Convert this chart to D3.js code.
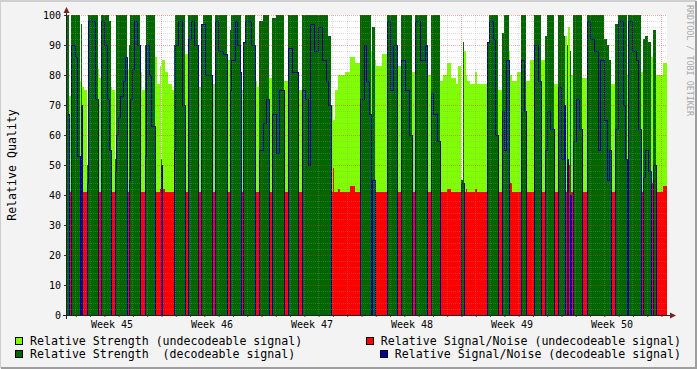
<!DOCTYPE html>
<html><head><meta charset="utf-8">
<script src="https://cdn.jsdelivr.net/npm/d3@7"></script>
<style>html,body{margin:0;padding:0;background:#f3f3f3;}svg{display:block;}</style>
</head><body><svg id="c" width="697" height="369"></svg>
<script>
// ---- data (RRD rows: 600 rows of 6048 s each) ----
const START = Date.UTC(2012, 10, 5, 9, 14, 24);
const STEP = 6048;          // seconds per row
const ROWS = 600;
// [first row, decodeable(1)/undecodeable(0), relative strength, relative signal/noise]
const periods = [
[0,1,100,67],[2,0,73,41],[4,1,100,90],[8,1,100,86],[10,1,100,53],
[13,0,78,41],[14,1,97,70],[15,0,76,41],[17,0,75,41],[20,1,50,44],
[21,1,100,98],[28,1,100,72],[31,0,82,44],[32,0,79,41],[34,1,100,98],
[37,1,100,90],[40,1,100,72],[42,1,98,55],[44,0,76,46],[45,0,75,41],
[48,1,52,48],[49,1,100,60],[51,1,100,66],[53,1,100,73],[56,1,100,78],
[58,1,100,86],[60,0,82,41],[62,1,90,45],[63,1,100,72],[65,1,100,82],
[67,1,100,98],[70,1,100,90],[73,0,81,41],[75,0,75,41],[78,1,90,53],
[79,1,100,90],[82,1,100,80],[84,1,100,63],[88,0,86,41],[90,0,77,41],
[93,0,83,42],[94,1,52,50],[95,0,85,42],[98,0,81,41],[101,0,77,41],
[105,0,75,41],[107,1,90,55],[108,1,100,90],[111,1,100,98],[115,1,100,70],
[118,0,87,41],[121,1,100,92],[124,1,100,98],[127,1,100,90],[131,0,76,41],
[134,1,97,97],[136,1,100,97],[138,1,100,80],[145,0,77,41],[148,1,100,98],
[151,1,100,88],[156,1,100,87],[160,0,85,50],[161,0,85,41],[163,1,95,75],
[164,1,100,85],[168,1,100,98],[170,1,100,90],[173,1,100,81],[174,0,75,50],
[175,0,75,41],[176,1,91,91],[178,1,100,98],[184,1,100,90],[188,0,78,41],
[190,0,76,41],[192,1,98,55],[196,1,100,64],[199,1,100,72],[202,0,79,51],
[203,0,79,41],[205,1,99,67],[209,1,100,54],[212,1,100,75],[217,0,78,46],
[218,0,78,41],[221,1,100,89],[225,1,100,81],[231,0,75,41],[235,1,100,75],
[238,1,100,72],[241,1,100,50],[243,1,100,97],[247,1,100,88],[251,1,100,96],
[255,1,100,85],[259,1,100,78],[261,1,93,70],[264,0,70,41],[266,0,65,49],
[267,0,65,41],[268,0,75,41],[271,0,80,42],[273,0,80,41],[278,0,81,41],
[283,0,86,43],[288,0,84,41],[293,1,100,72],[297,1,100,90],[299,1,100,78],
[302,1,100,67],[304,0,88,41],[305,1,96,45],[308,0,85,43],[309,0,83,41],
[315,0,87,41],[320,1,100,98],[323,1,100,75],[326,1,100,90],[330,0,83,41],
[334,1,100,85],[338,1,100,75],[342,1,100,60],[345,0,81,41],[348,1,100,98],
[353,1,100,85],[358,1,100,90],[360,0,80,41],[364,1,100,74],[366,1,100,67],
[370,1,100,58],[373,0,78,41],[376,0,80,41],[380,0,84,42],[384,0,79,41],
[389,0,77,41],[391,0,83,41],[394,1,45,44],[396,1,91,44],[397,0,88,41],
[399,0,80,42],[400,0,78,41],[403,0,77,41],[408,0,81,42],[410,0,77,41],
[420,1,91,91],[422,1,100,98],[426,1,100,92],[428,1,100,60],[431,0,75,41],
[435,1,94,68],[437,1,100,55],[439,1,100,85],[442,0,88,55],[443,0,80,44],
[445,0,78,41],[450,0,81,41],[454,1,100,85],[457,1,100,68],[459,0,78,41],
[463,0,85,41],[467,1,100,90],[471,1,100,78],[474,0,85,41],[478,1,93,55],
[480,1,100,68],[483,1,100,62],[487,0,77,41],[491,1,100,76],[494,1,100,52],
[497,1,93,70],[498,0,93,41],[500,1,90,52],[501,0,96,50],[503,1,88,40],
[504,0,80,41],[506,1,100,58],[509,1,100,72],[512,1,100,62],[515,0,79,41],
[520,1,100,98],[523,1,100,92],[527,1,100,88],[531,1,100,55],[533,1,100,85],
[537,1,92,65],[540,1,90,45],[542,1,85,55],[544,0,77,41],[548,1,97,62],
[551,1,100,98],[556,1,100,70],[558,1,100,52],[560,0,80,43],[561,1,100,98],
[565,1,100,88],[569,1,100,85],[571,1,100,62],[574,0,81,41],[576,1,92,46],
[578,1,93,55],[581,1,91,48],[584,0,86,44],[586,1,95,50],[589,0,80,41],
[596,0,84,43]
];
const yTicks = [0,10,20,30,40,50,60,70,80,90,100];
const weekLabelFormat = "Week %V";
const legendLabels = ["Relative Strength (undecodeable signal)",
                      "Relative Signal/Noise (undecodeable signal)",
                      "Relative Strength  (decodeable signal)",
                      "Relative Signal/Noise (decodeable signal)"];
const legendColors = ["#80FF00", "#FF0000", "#006600", "#00009C"];
const yTitle = "Relative Quality";
const watermark = "RRDTOOL / TOBI OETIKER";

// ---- derive the four series ----
const strU = new Array(ROWS).fill(0), snrU = new Array(ROWS).fill(0);
const strD = new Array(ROWS).fill(0), snrD = new Array(ROWS).fill(0);
periods.forEach((p, k) => {
  const end = k + 1 < periods.length ? periods[k + 1][0] : ROWS;
  for (let i = p[0]; i < end; i++) {
    if (p[1]) { strD[i] = p[2]; snrD[i] = p[3]; } else { strU[i] = p[2]; snrU[i] = p[3]; }
  }
});

// ---- layout ----
const W = 697, H = 369, PL = 67, PR = 667, PT = 15, PB = 315;
const FONT = "'DejaVu Sans Mono', monospace";
const svg = d3.select("#c");
const t0 = new Date(START), t1 = new Date(START + ROWS * STEP * 1000);
const tAt = i => new Date(START + i * STEP * 1000);
const x = d3.scaleUtc().domain([t0, t1]).range([PL, PR]);
const y = d3.scaleLinear().domain([0, 100]).range([PB, PT]);

// background & frame
svg.append("rect").attr("width", W).attr("height", H).attr("fill", "#F3F3F3");
svg.append("path").attr("d", `M0,${H-1}V1H${W-1}`).attr("fill","none").attr("stroke","#CFCFCF").attr("stroke-width",2);
svg.append("path").attr("d", `M1,${H-1}H${W-1}V1`).attr("fill","none").attr("stroke","#9E9E9E").attr("stroke-width",2);
svg.append("rect").attr("x", PL).attr("y", PT).attr("width", PR - PL).attr("height", PB - PT).attr("fill", "#FFFFFF");

// series
const idx = d3.range(ROWS + 1);
const val = arr => i => arr[Math.min(i, ROWS - 1)];
function drawArea(arr, color) {
  svg.append("path")
    .attr("d", d3.area().curve(d3.curveStepAfter).x(i => x(tAt(i))).y0(y(0)).y1(i => y(val(arr)(i)))(idx))
    .attr("fill", color).attr("shape-rendering", "crispEdges");
}
drawArea(strU, legendColors[0]);
drawArea(snrU, legendColors[1]);
drawArea(strD, legendColors[2]);
svg.append("path")
  .attr("d", d3.line().curve(d3.curveStepAfter).x(i => x(tAt(i))).y(i => y(val(snrD)(i)))(idx))
  .attr("transform", "translate(0.5,0.5)")
  .attr("fill", "none").attr("stroke", legendColors[3]).attr("stroke-width", 1)
  .attr("shape-rendering", "crispEdges");

// grid (on top, dotted)
const grid = svg.append("g").attr("shape-rendering", "crispEdges").attr("stroke-dasharray", "1,1");
const minorCol = "rgba(150,150,150,0.32)", majorCol = "rgba(222,48,48,0.42)";
const minorY = d3.range(2, 101, 2).filter(v => v % 10 !== 0);
const majorY = d3.range(10, 101, 10);
grid.selectAll(".hy").data(minorY).join("line")
  .attr("x1", PL).attr("x2", PR).attr("y1", v => y(v) + 0.5).attr("y2", v => y(v) + 0.5)
  .attr("stroke", minorCol);
const days = d3.utcDay.range(t0, t1).filter(d => d.getUTCDay() !== 1);
const weeks = d3.utcMonday.range(t0, t1);
grid.selectAll(".vx").data(days).join("line")
  .attr("x1", d => Math.floor(x(d)) + 0.5).attr("x2", d => Math.floor(x(d)) + 0.5)
  .attr("y1", PT).attr("y2", PB).attr("stroke", minorCol);
grid.selectAll(".hY").data(majorY).join("line")
  .attr("x1", PL).attr("x2", PR).attr("y1", v => y(v) + 0.5).attr("y2", v => y(v) + 0.5)
  .attr("stroke", majorCol);
grid.selectAll(".vX").data(weeks).join("line")
  .attr("x1", d => Math.floor(x(d)) + 0.5).attr("x2", d => Math.floor(x(d)) + 0.5)
  .attr("y1", PT).attr("y2", PB).attr("stroke", majorCol);

// axes
const yAxis = svg.append("g").attr("transform", `translate(${PL},0)`)
  .call(d3.axisLeft(y).tickValues(yTicks).tickSize(3).tickPadding(3).tickFormat(d3.format("d")));
yAxis.select(".domain").remove();
yAxis.selectAll("line").attr("stroke", "#333");
yAxis.selectAll("text").attr("font-family", FONT).attr("font-size", "10px").attr("fill", "#000");

// labels centred in each week (Thursday noon)
const weekMids = weeks.map(d => d3.utcHour.offset(d, -84));
const xAxis = svg.append("g").attr("transform", `translate(0,${PB})`)
  .call(d3.axisBottom(x).tickValues(weekMids).tickSize(0).tickPadding(6).tickFormat(d3.utcFormat(weekLabelFormat)));
xAxis.select(".domain").remove();
xAxis.selectAll("text").attr("font-family", FONT).attr("font-size", "10px").attr("fill", "#000");
const xTicks = svg.append("g").attr("transform", `translate(0,${PB})`)
  .call(d3.axisBottom(x).tickValues(d3.utcDay.range(t0, t1)).tickSize(2).tickFormat(""));
xTicks.select(".domain").remove();
xTicks.selectAll("line").attr("stroke", "#555");

svg.append("line").attr("x1", PL - 0.5).attr("x2", PL - 0.5).attr("y1", PB + 4).attr("y2", 12).attr("stroke", "#222");
svg.append("line").attr("x1", PL - 4).attr("x2", PR + 4).attr("y1", PB + 0.5).attr("y2", PB + 0.5).attr("stroke", "#222");
svg.append("path").attr("d", `M${PL-3.5},13L${PL+2.5},13L${PL-0.5},7Z`).attr("fill", "#7F1F1F");
svg.append("path").attr("d", `M${PR+3},${PB-2.5}L${PR+3},${PB+3.5}L${PR+9},${PB+0.5}Z`).attr("fill", "#7F1F1F");

// titles
svg.append("text").attr("transform", `translate(12,${(PT+PB)/2}) rotate(-90)`)
  .attr("text-anchor", "middle").attr("dominant-baseline", "central")
  .attr("font-family", FONT).attr("font-size", "11.6px").attr("fill", "#000").text(yTitle);
svg.append("text").attr("transform", `translate(685,5) rotate(90)`)
  .attr("text-anchor", "start").attr("dominant-baseline", "text-after-edge")
  .attr("font-family", FONT).attr("font-size", "8.4px").attr("fill", "#A8A8A8").text(watermark);

// legend
const legendRows = [344.5, 358];
const legendPos = [
  {row: 0, align: "left"}, {row: 0, align: "right"},
  {row: 1, align: "left"}, {row: 1, align: "right"}];
legendLabels.forEach((lab, k) => {
  const pos = legendPos[k];
  const g = svg.append("g");
  const t = g.append("text").attr("y", legendRows[pos.row])
    .attr("font-family", FONT).attr("font-size", "11.6px").attr("fill", "#000")
    .attr("xml:space", "preserve").style("white-space", "pre").text(lab);
  let tx;
  if (pos.align === "left") { tx = 30; }
  else { tx = 681 - t.node().getComputedTextLength(); }
  t.attr("x", tx);
  g.append("rect").attr("x", tx - 15 + 0.5).attr("y", legendRows[pos.row] - 8 + 0.5)
    .attr("width", 7).attr("height", 7).attr("fill", legendColors[k])
    .attr("stroke", "#000").attr("stroke-width", 1).attr("shape-rendering", "crispEdges");
});
</script></body></html>
